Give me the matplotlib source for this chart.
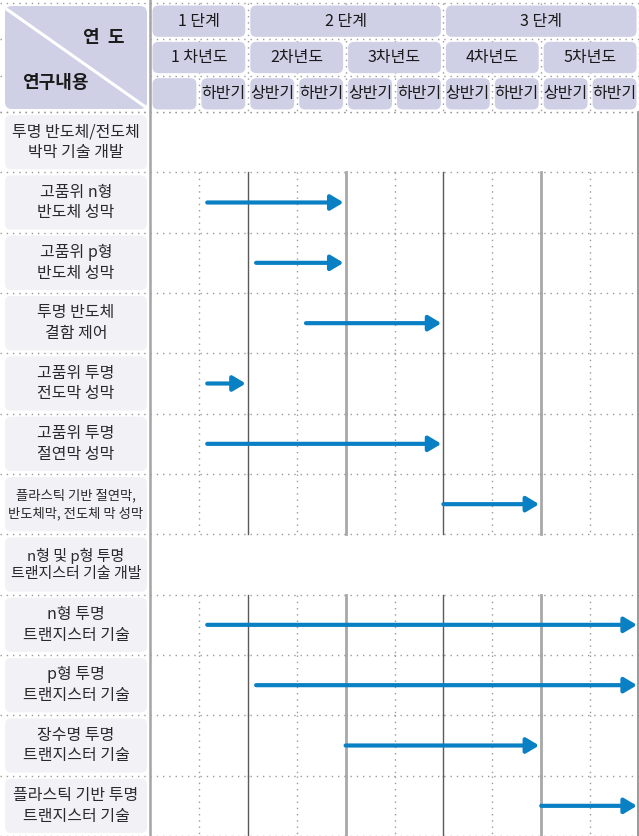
import matplotlib
matplotlib.use("Agg")
import matplotlib.pyplot as plt
from matplotlib.patches import FancyBboxPatch
from matplotlib.lines import Line2D

plt.rcParams['font.family'] = ['Noto Sans CJK KR', 'DejaVu Sans']

# ---------------- data ----------------
stages = ["1 단계", "2 단계", "3 단계"]
stage_spans = [(0, 2), (2, 6), (6, 10)]          # in half-year columns
years = ["1 차년도", "2차년도", "3차년도", "4차년도", "5차년도"]
halves = ["", "하반기", "상반기", "하반기", "상반기", "하반기",
          "상반기", "하반기", "상반기", "하반기"]
row_labels = [
    "투명 반도체/전도체\n박막 기술 개발",
    "고품위 n형\n반도체 성막",
    "고품위 p형\n반도체 성막",
    "투명 반도체\n결함 제어",
    "고품위 투명\n전도막 성막",
    "고품위 투명\n절연막 성막",
    "플라스틱 기반 절연막,\n반도체막, 전도체 막 성막",
    "n형 및 p형 투명\n트랜지스터 기술 개발",
    "n형 투명\n트랜지스터 기술",
    "p형 투명\n트랜지스터 기술",
    "장수명 투명\n트랜지스터 기술",
    "플라스틱 기반 투명\n트랜지스터 기술",
]
section_rows = [0, 7]
task_rows = [1, 2, 3, 4, 5, 6, 8, 9, 10, 11]
task_start = [1.17, 2.17, 3.19, 1.17, 1.17, 6.0, 1.17, 2.17, 4.0, 8.0]
task_end = [4.0, 4.0, 6.0, 2.0, 6.0, 8.0, 10.0, 10.0, 8.0, 10.0]

# ---------------- layout (pixels) ----------------
W, H = 639, 836
X0 = 150          # start of timeline
Y0 = 112          # start of body rows
NCOL = 10
NROW = len(row_labels)
CW = (W - X0) / NCOL
RH = (H - Y0) / NROW
HEAD_TOP = 3
HR = (Y0 - HEAD_TOP) / 3

HEAD_FILL = "#cfd0e6"
LABEL_FILL = "#f2f1f6"
ARROW_C = "#0a80c4"
DOT = (0, (1.0, 3.5))
DOT_C = "#9a9a9a"

fig = plt.figure(figsize=(W / 100, H / 100), dpi=100)

# grid axes: half-year columns x rows
axg = fig.add_axes([X0 / W, 0, (W - X0) / W, (H - Y0) / H])
axg.set_xlim(0, NCOL)
axg.set_ylim(NROW, 0)
axg.axis('off')

# overlay axes in pixel units for the table decoration
axp = fig.add_axes([0, 0, 1, 1])
axp.set_xlim(0, W)
axp.set_ylim(H, 0)
axp.axis('off')
axp.patch.set_alpha(0)

# ----- body grid -----
for r in range(NROW + 1):
    axg.axhline(r, color=DOT_C, lw=1.0, ls=DOT, zorder=1)
    axp.plot([0, X0], [Y0 + r * RH] * 2, color=DOT_C, lw=1.0, ls=DOT, zorder=1)

for r in range(NROW):
    if r in section_rows:
        continue
    for c in range(1, NCOL):
        if c % 2 == 1:
            axg.plot([c, c], [r, r + 1], color=DOT_C, lw=1.0, ls=DOT, zorder=1)
        elif c in (2, 6):
            axg.plot([c, c], [r, r + 1], color="#5a5a5a", lw=1.0, zorder=1)
        else:
            axg.plot([c, c], [r, r + 1], color="#a8a8a8", lw=2.0, zorder=1)
axg.plot([NCOL - 0.02, NCOL - 0.02], [0, NROW], color="#8a8a8a", lw=1.2, zorder=1,
         clip_on=False)

# arrows
for r, s, e in zip(task_rows, task_start, task_end):
    y = r + 0.5
    axg.annotate("", xy=(e, y), xytext=(s, y),
                 arrowprops=dict(arrowstyle="-|>,head_length=0.75,head_width=0.45",
                                 mutation_scale=10, lw=3.0, color=ARROW_C,
                                 shrinkA=0, shrinkB=1.5), zorder=3)

# ----- header grid (dotted) -----
for k in range(4):
    axp.plot([0, W], [HEAD_TOP + k * HR] * 2, color=DOT_C, lw=1.0, ls=DOT, zorder=1)
for c in range(NCOL + 1):
    axp.plot([X0 + c * CW] * 2, [HEAD_TOP, Y0], color=DOT_C, lw=1.0, ls=DOT, zorder=1)

# vertical separator
axp.plot([X0, X0], [0, H], color="#a4a4a4", lw=1.8, zorder=4)


def rbox(x0, y0, x1, y1, fc, rad=6):
    p = FancyBboxPatch((x0, y0), x1 - x0, y1 - y0,
                       boxstyle=f"round,pad=0,rounding_size={rad}",
                       fc=fc, ec="none", zorder=2)
    axp.add_patch(p)
    return p


PAD = 2.5
HFS = 11.5
# stage row
for lab, (a, b) in zip(stages, stage_spans):
    x0, x1 = X0 + a * CW + PAD, X0 + b * CW - PAD
    y0, y1 = HEAD_TOP + PAD, HEAD_TOP + HR - PAD
    rbox(x0, y0, x1, y1, HEAD_FILL)
    axp.text((x0 + x1) / 2, (y0 + y1) / 2, lab, ha='center', va='center',
             fontsize=HFS, color="#1a1a1a", zorder=3)
# year row
for i, lab in enumerate(years):
    x0, x1 = X0 + 2 * i * CW + PAD, X0 + 2 * (i + 1) * CW - PAD
    y0, y1 = HEAD_TOP + HR + PAD, HEAD_TOP + 2 * HR - PAD
    rbox(x0, y0, x1, y1, HEAD_FILL)
    axp.text((x0 + x1) / 2, (y0 + y1) / 2, lab, ha='center', va='center',
             fontsize=HFS, color="#1a1a1a", zorder=3)
# half row
for i, lab in enumerate(halves):
    x0, x1 = X0 + i * CW + PAD, X0 + (i + 1) * CW - PAD
    y0, y1 = HEAD_TOP + 2 * HR + PAD, Y0 - PAD
    rbox(x0, y0, x1, y1, HEAD_FILL)
    axp.text((x0 + x1) / 2, (y0 + y1) / 2, lab, ha='center', va='center',
             fontsize=HFS, color="#1a1a1a", zorder=3)

# corner box
cb = rbox(5, 6, 147, 109, HEAD_FILL, rad=7)
ln = Line2D([5, 147], [8, 108], color="white", lw=2.2, zorder=3)
axp.add_line(ln)
ln.set_clip_path(cb)
axp.text(104, 37, "연  도", ha='center', va='center', fontsize=13,
         fontweight='bold', color="#1a1a1a", zorder=4)
axp.text(55, 82, "연구내용", ha='center', va='center', fontsize=13,
         fontweight='bold', color="#1a1a1a", zorder=4)

# row label boxes
for r, lab in enumerate(row_labels):
    y0, y1 = Y0 + r * RH + 3, Y0 + (r + 1) * RH - 3
    rbox(5, y0, 147, y1, LABEL_FILL, rad=6)
    fs = 9.6 if r == 6 else (10.8 if r == 7 else 11.5)
    axp.text(76, (y0 + y1) / 2, lab, ha='center', va='center', fontsize=fs,
             color="#2a2a2a", linespacing=1.3, zorder=3)

fig.savefig("out.png", dpi=100)
